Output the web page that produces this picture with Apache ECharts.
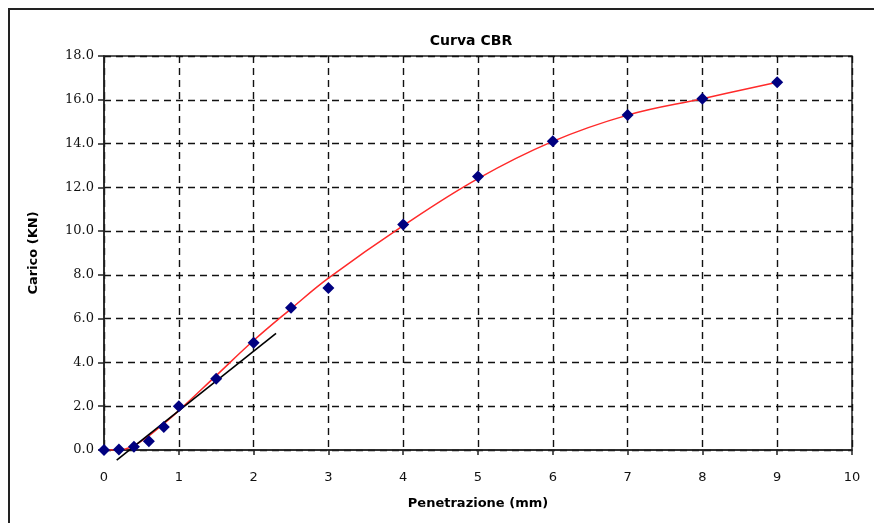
<!DOCTYPE html>
<html><head><meta charset="utf-8">
<script src="https://cdn.jsdelivr.net/npm/echarts@6/dist/echarts.min.js"></script>
<style>html,body{margin:0;padding:0;background:#fff}#c{width:874px;height:523px}</style>
</head><body><div id="c"></div>
<script>
// Measured points
const penetration = [0, 0.2, 0.4, 0.6, 0.8, 1, 1.5, 2, 2.5, 3, 4, 5, 6, 7, 8, 9];
const load = [0.0, 0.02, 0.15, 0.4, 1.05, 2.0, 3.25, 4.9, 6.5, 7.4, 10.3, 12.5, 14.1, 15.3, 16.05, 16.8];
// Red trend curve
const trendX = [0, 0.2, 0.4, 0.6, 0.8, 1, 1.5, 2, 2.5, 3, 4, 5, 6, 7, 8, 9];
const trendY = [0.0, 0.0, 0.2, 0.65, 1.2, 1.8, 3.4, 5.0, 6.45, 7.85, 10.25, 12.4, 14.1, 15.3, 16.05, 16.8];
// Black tangent line
const tangentX = [0.17, 2.30];
const tangentY = [-0.46, 5.33];
// Axis ticks
const xTicks = [0, 1, 2, 3, 4, 5, 6, 7, 8, 9, 10];
const yTicks = [0, 2, 4, 6, 8, 10, 12, 14, 16, 18];

const zip = (a, b) => a.map((v, i) => [v, b[i]]);
const chart = echarts.init(document.getElementById('c'));
chart.setOption({
  animation: false,
  backgroundColor: '#fff',
  graphic: [{
    type: 'rect', shape: { x: 9, y: 9, width: 900, height: 600 },
    style: { fill: 'none', stroke: '#222', lineWidth: 2 }, z: -1
  }],
  title: {
    text: 'Curva CBR', left: 466, top: 29, textAlign: 'center',
    textStyle: { fontFamily: 'DejaVu Sans', fontSize: 14, fontWeight: 'bold', color: '#000' }
  },
  grid: { left: 104, right: 22, top: 56, bottom: 73, show: true, borderColor: '#222', borderWidth: 1.5 },
  xAxis: {
    type: 'value', min: xTicks[0], max: xTicks[xTicks.length - 1], interval: 1,
    name: 'Penetrazione (mm)', nameLocation: 'middle', nameGap: 47,
    nameTextStyle: { fontFamily: 'DejaVu Sans', fontSize: 13, fontWeight: 'bold', color: '#000' },
    axisLine: { show: true, onZero: false, lineStyle: { color: '#222', width: 1.5 } },
    axisTick: { show: true, inside: false, length: 5, lineStyle: { color: '#222', width: 1.5 } },
    axisLabel: { fontFamily: 'DejaVu Sans', fontSize: 13, color: '#111', margin: 21 },
    splitLine: { show: true, lineStyle: { color: '#111', type: [7, 5], width: 1.4 } }
  },
  yAxis: {
    type: 'value', min: yTicks[0], max: yTicks[yTicks.length - 1], interval: 2,
    name: 'Carico (KN)', nameLocation: 'middle', nameGap: 64, nameRotate: 90,
    nameTextStyle: { fontFamily: 'DejaVu Sans', fontSize: 13, fontWeight: 'bold', color: '#000' },
    axisLine: { show: true, lineStyle: { color: '#222', width: 1.5 } },
    axisTick: { show: true, length: 6, lineStyle: { color: '#222', width: 1.5 } },
    axisLabel: { fontFamily: 'DejaVu Serif', fontSize: 13, color: '#111', margin: 10,
      formatter: v => v.toFixed(1) },
    splitLine: { show: true, lineStyle: { color: '#111', type: [7, 5], width: 1.4 } }
  },
  series: [
    {
      type: 'line', data: zip(trendX, trendY), smooth: 0.4, showSymbol: false,
      lineStyle: { color: '#ff2a2a', width: 1.5 }, z: 2
    },
    {
      type: 'line', data: zip(tangentX, tangentY), showSymbol: false, clip: false,
      lineStyle: { color: '#000', width: 1.6 }, z: 3
    },
    {
      type: 'scatter', data: zip(penetration, load), symbol: 'diamond', symbolSize: 12,
      clip: false, itemStyle: { color: '#000080', opacity: 1 }, z: 4
    }
  ]
});
</script></body></html>
